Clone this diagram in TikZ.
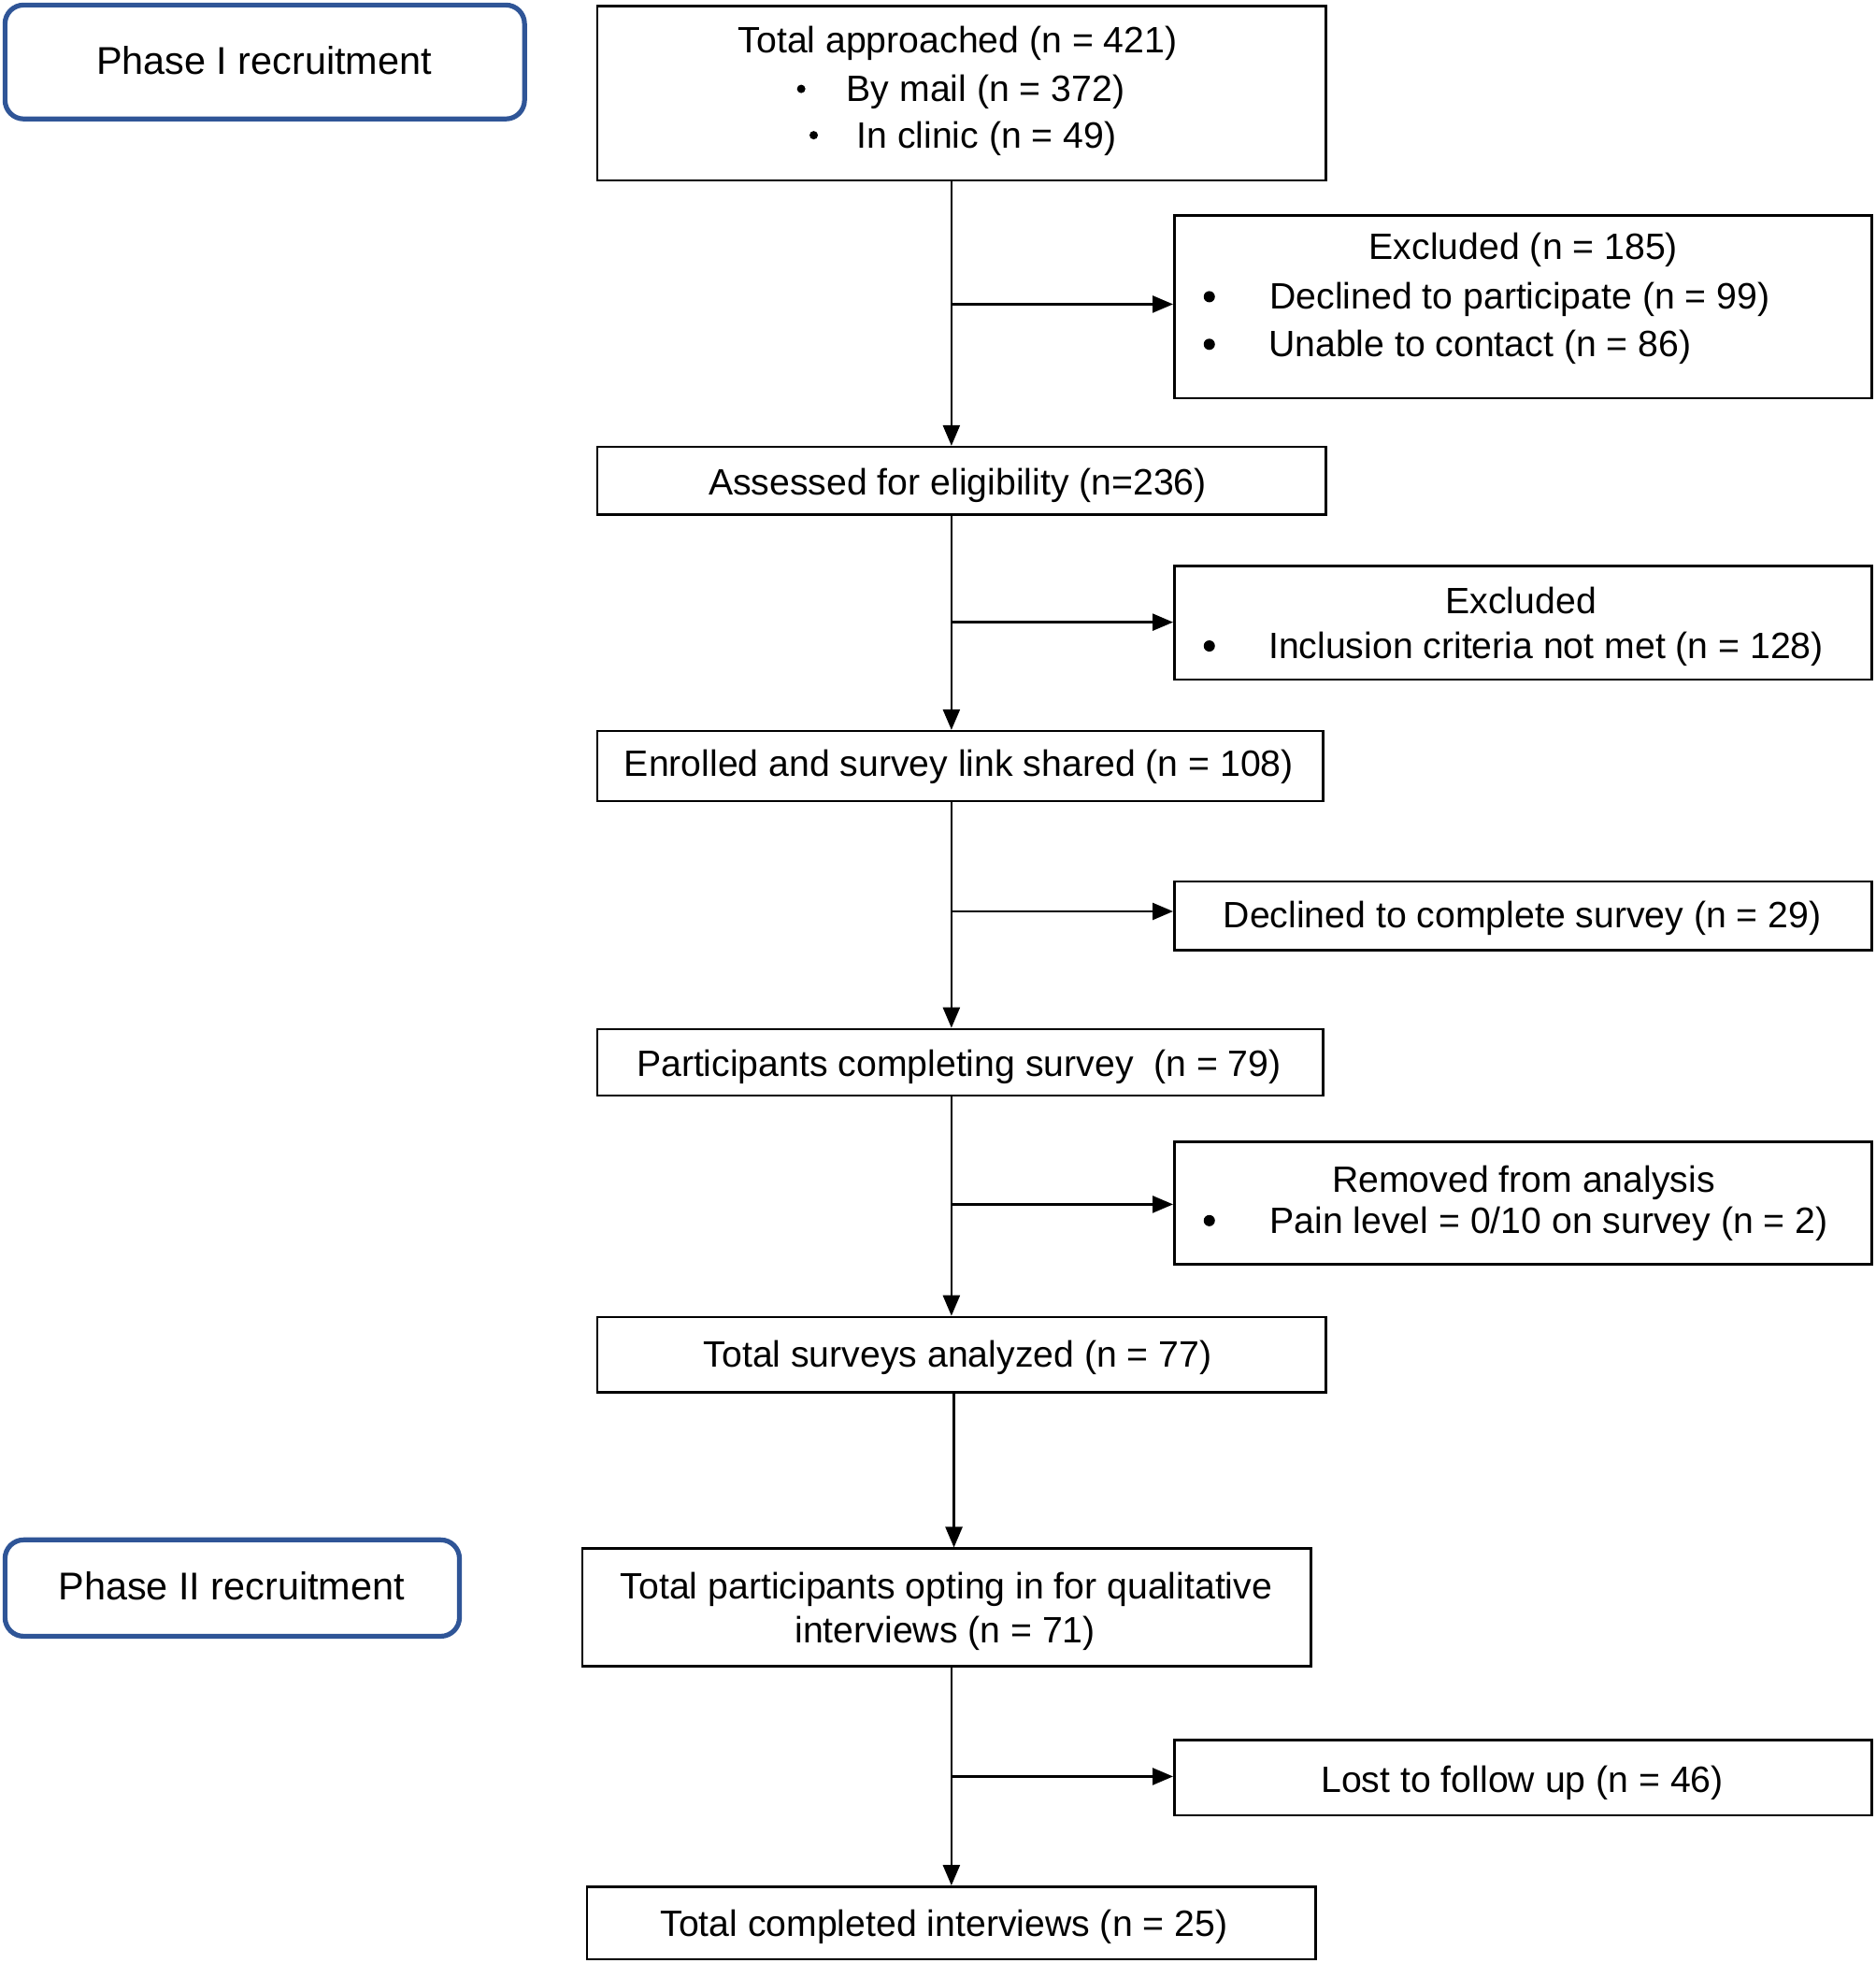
\documentclass[tikz,border=0pt]{standalone}
\usepackage{fontspec}
\setmainfont{Liberation Sans}
\usetikzlibrary{arrows.meta,fit}
\definecolor{phaseblue}{RGB}{47,85,151}
\begin{document}
\begin{tikzpicture}[x=0.66955pt,y=-0.66955pt,
  box/.style={draw=black, line width=1.25pt, inner sep=0pt},
  phasebox/.style={draw=phaseblue, line width=2.6pt, rounded corners=10pt, inner sep=0pt},
  txt/.style={inner sep=0pt, font=\fontsize{19.6}{24}\selectfont, anchor=base},
  ltxt/.style={txt, anchor=base west},
  ptxt/.style={inner sep=0pt, font=\fontsize{20.7}{25}\selectfont, anchor=base},
  bul/.style={circle, fill=black, inner sep=0pt, minimum size=6pt},
  sbul/.style={circle, fill=black, inner sep=0pt, minimum size=4.5pt},
  arr/.style={line width=1.25pt, -{Triangle[length=11pt,width=9pt]}}]
\useasboundingbox (0,0) rectangle (1498,1568);

% phase labels
\node[phasebox, fit={(4,4) (419,95)}] (p1) {};
\node[ptxt] (p1t) at (211,59) {Phase I recruitment};
\node[phasebox, fit={(4,1230) (367,1307)}] (p2) {};
\node[ptxt] (p2t) at (185,1278) {Phase II recruitment};

% main boxes
\node[box, fit={(477,5) (1059,144)}] (ta) {};
\node[txt] (tat) at (765,42) {Total approached (n = 421)};
\node[sbul] (tab1) at (640,71) {};
\node[ltxt] (tal1) at (676,81) {By mail (n = 372)};
\node[sbul] (tab2) at (650,108) {};
\node[ltxt] (tal2) at (684,118) {In clinic (n = 49)};

\node[box, fit={(477,357) (1059,411)}] (as) {};
\node[txt] (ast) at (765,395) {Assessed for eligibility (n=236)};

\node[box, fit={(477,584) (1057,640)}] (en) {};
\node[txt] (ent) at (766,620) {Enrolled and survey link shared (n = 108)};

\node[box, fit={(477,822) (1057,875)}] (pc) {};
\node[txt] (pct) at (766,860) {Participants completing survey\ \ (n = 79)};

\node[box, fit={(477,1052) (1059,1112)}] (tsa) {};
\node[txt] (tsat) at (765,1092) {Total surveys analyzed (n = 77)};

\node[box, fit={(465,1237) (1047,1331)}] (tp) {};
\node[txt] (tpt1) at (756,1277) {Total participants opting in for qualitative};
\node[txt] (tpt2) at (755,1312) {interviews (n = 71)};

\node[box, fit={(469,1507) (1051,1565)}] (tc) {};
\node[txt] (tct) at (754,1547) {Total completed interviews (n = 25)};

% side boxes
\node[box, fit={(938,172) (1495,318)}] (ex1) {};
\node[txt] (ex1t) at (1217,207) {Excluded (n = 185)};
\node[bul] (ex1b1) at (966,237) {};
\node[ltxt] (ex1l1) at (1014,247) {Declined to participate (n = 99)};
\node[bul] (ex1b2) at (966,275) {};
\node[ltxt] (ex1l2) at (1013,285) {Unable to contact (n = 86)};

\node[box, fit={(938,452) (1495,543)}] (ex2) {};
\node[txt] (ex2t) at (1215,490) {Excluded};
\node[bul] (ex2b1) at (966,516) {};
\node[ltxt] (ex2l1) at (1013,526) {Inclusion criteria not met (n = 128)};

\node[box, fit={(938,704) (1495,759)}] (dc) {};
\node[txt] (dct) at (1216,741) {Declined to complete survey (n = 29)};

\node[box, fit={(938,912) (1495,1010)}] (rm) {};
\node[txt] (rmt) at (1217,952) {Removed from analysis};
\node[bul] (rmb1) at (966,975) {};
\node[ltxt] (rml1) at (1014,985) {Pain level = 0/10 on survey (n = 2)};

\node[box, fit={(938,1390) (1495,1450)}] (lf) {};
\node[txt] (lft) at (1216,1432) {Lost to follow up (n = 46)};

% connectors
\coordinate (sp) at (760,0);
\coordinate (sp2) at (762,0);
\coordinate (b1) at (760,243);
\coordinate (b2) at (760,497);
\coordinate (b3) at (760,728);
\coordinate (b4) at (760,962);
\coordinate (b5) at (760,1419);

\draw[arr] (sp |- ta.south) -- (sp |- as.north);
\draw[arr] (b1) -- (b1 -| ex1.west);
\draw[arr] (sp |- as.south) -- (sp |- en.north);
\draw[arr] (b2) -- (b2 -| ex2.west);
\draw[arr] (sp |- en.south) -- (sp |- pc.north);
\draw[arr] (b3) -- (b3 -| dc.west);
\draw[arr] (sp |- pc.south) -- (sp |- tsa.north);
\draw[arr] (b4) -- (b4 -| rm.west);
\draw[arr] (sp2 |- tsa.south) -- (sp2 |- tp.north);
\draw[arr] (sp |- tp.south) -- (sp |- tc.north);
\draw[arr] (b5) -- (b5 -| lf.west);
\end{tikzpicture}
\end{document}
